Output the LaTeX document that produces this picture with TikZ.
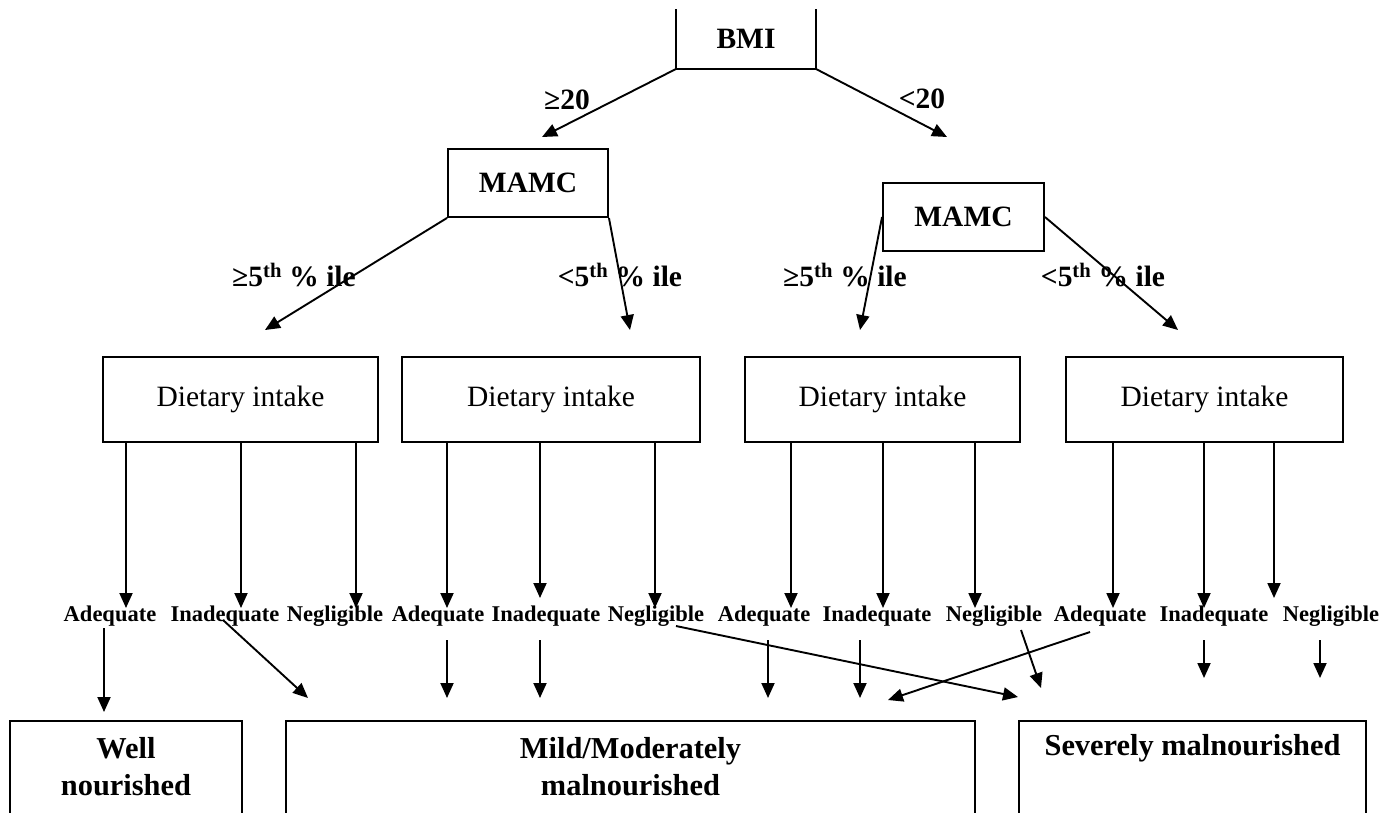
\documentclass[tikz,border=0pt]{standalone}
\usepackage{fontspec}
\setmainfont{Liberation Serif}
\usetikzlibrary{arrows.meta}
\begin{document}
\begin{tikzpicture}[x=1pt,y=-1pt,line width=1.9pt,
  arr/.style={-{Triangle[length=15pt,width=13pt]}},
  hd/.style={font=\fontsize{29.5}{32}\selectfont\bfseries,inner sep=0pt},
  lbl/.style={font=\fontsize{22.5}{24}\selectfont\bfseries,inner sep=0pt,anchor=base},
  diet/.style={draw,minimum height=85pt,inner sep=0pt,font=\fontsize{29.5}{32}\selectfont},
  mamc/.style={draw,minimum width=160pt,minimum height=68pt,inner sep=0pt,font=\fontsize{29.5}{32}\selectfont\bfseries},
  res/.style={minimum height=90pt,inner sep=0pt,align=center,font=\fontsize{30.4}{37}\selectfont\bfseries}]
\useasboundingbox (0,0) rectangle (1383,812);
% BMI
\node[hd,minimum width=138pt,minimum height=58pt] (bmi) at (746,39) {BMI};
\draw (bmi.north west) -- (bmi.south west) -- (bmi.south east) -- (bmi.north east);
\coordinate (tb1) at (542,137);
\coordinate (tb2) at (947,137);
\draw[arr] (bmi.south west) -- (tb1);
\draw[arr] (bmi.south east) -- (tb2);
\node[hd] (ge20) at (567,100) {≥20};
\node[hd] (lt20) at (922,99) {<20};
% MAMC
\node[mamc] (mL) at (528,183) {MAMC};
\node[mamc,minimum width=161pt] (mR) at (963.5,217) {MAMC};
\coordinate (tm1) at (265,330);
\coordinate (tm2) at (630,330);
\coordinate (tm3) at (860,330);
\coordinate (tm4) at (1178,330);
\draw[arr] (mL.south west) -- (tm1);
\draw[arr] (mL.south east) -- (tm2);
\draw[arr] (mR.west) -- (tm3);
\draw[arr] (mR.east) -- (tm4);
\node[hd] (p1) at (294,275) {≥5\textsuperscript{th} \% ile};
\node[hd] (p2) at (620,275) {<5\textsuperscript{th} \% ile};
\node[hd] (p3) at (845,275) {≥5\textsuperscript{th} \% ile};
\node[hd] (p4) at (1103,275) {<5\textsuperscript{th} \% ile};
% Dietary intake
\node[diet,minimum width=275pt] (d1) at (240.5,399.5) {Dietary intake};
\node[diet,minimum width=298pt] (d2) at (551,399.5) {Dietary intake};
\node[diet,minimum width=275pt] (d3) at (882.5,399.5) {Dietary intake};
\node[diet,minimum width=277pt] (d4) at (1204.5,399.5) {Dietary intake};
\coordinate (v1) at (126,608);
\coordinate (v2) at (241,608);
\coordinate (v3) at (356,608);
\coordinate (v4) at (447,608);
\coordinate (v5) at (540,598);
\coordinate (v6) at (655,608);
\coordinate (v7) at (791,608);
\coordinate (v8) at (883,608);
\coordinate (v9) at (975,608);
\coordinate (v10) at (1113,608);
\coordinate (v11) at (1204,608);
\coordinate (v12) at (1274,598);
\foreach \d/\v in {d1/v1,d1/v2,d1/v3,d2/v4,d2/v5,d2/v6,d3/v7,d3/v8,d3/v9,d4/v10,d4/v11,d4/v12}
  \draw[arr] (\d.south -| \v) -- (\v);
% labels
\node[lbl] (a1) at (110,621) {Adequate};
\node[lbl] (i1) at (225,621) {Inadequate};
\node[lbl] (n1) at (335,621) {Negligible};
\node[lbl] (a2) at (438,621) {Adequate};
\node[lbl] (i2) at (546,621) {Inadequate};
\node[lbl] (n2) at (656,621) {Negligible};
\node[lbl] (a3) at (764,621) {Adequate};
\node[lbl] (i3) at (877,621) {Inadequate};
\node[lbl] (n3) at (994,621) {Negligible};
\node[lbl] (a4) at (1100,621) {Adequate};
\node[lbl] (i4) at (1214,621) {Inadequate};
\node[lbl] (n4) at (1331,621) {Negligible};
% results
\node[res,minimum width=230pt] (well) at (126,767) {Well\\nourished};
\node[res,minimum width=687pt] (mild) at (630.5,767) {Mild/Moderately\\malnourished};
\node[res,minimum width=345pt] (sev) at (1192.5,767) {};
\node[hd,font=\fontsize{30.4}{37}\selectfont\bfseries] (sevt) at (1192.5,748) {Severely malnourished};
\foreach \n in {well,mild,sev}
  \draw (\n.south west) -- (\n.north west) -- (\n.north east) -- (\n.south east);
% lower arrows
\coordinate (s1) at (104,628);  \coordinate (e1) at (104,712);
\coordinate (s2) at (223,620);  \coordinate (e2) at (308,698);
\coordinate (s3) at (447,640);  \coordinate (e3) at (447,698);
\coordinate (s4) at (540,640);  \coordinate (e4) at (540,698);
\coordinate (s5) at (676,626);  \coordinate (e5) at (1018,697);
\coordinate (s6) at (768,640);  \coordinate (e6) at (768,698);
\coordinate (s7) at (860,640);  \coordinate (e7) at (860,698);
\coordinate (s8) at (1021,630); \coordinate (e8) at (1041,688);
\coordinate (s9) at (1090,632); \coordinate (e9) at (888,700);
\coordinate (s10) at (1204,640); \coordinate (e10) at (1204,678);
\coordinate (s11) at (1320,640); \coordinate (e11) at (1320,678);
\foreach \i in {1,...,11} \draw[arr] (s\i) -- (e\i);
\end{tikzpicture}
\end{document}
